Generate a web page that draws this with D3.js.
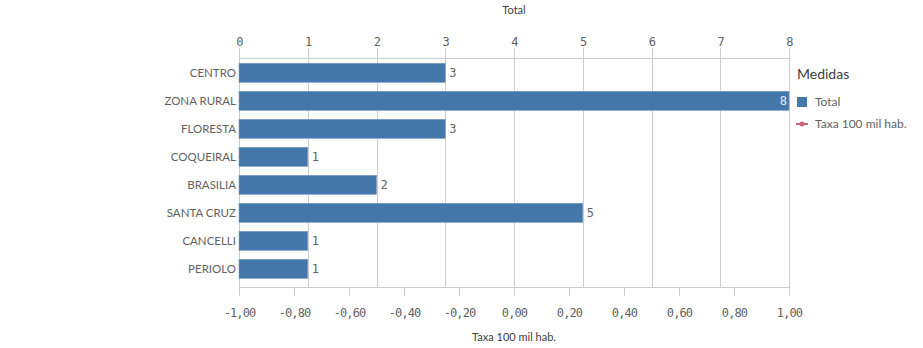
<!DOCTYPE html>
<html><head><meta charset="utf-8">
<script src="https://cdn.jsdelivr.net/npm/d3@7"></script>
<style>
body{margin:0;background:#fff;}
svg{display:block;}
</style></head>
<body>
<svg id="chart" width="923" height="348"></svg>
<script>
const categories = ["CENTRO","ZONA RURAL","FLORESTA","COQUEIRAL","BRASILIA","SANTA CRUZ","CANCELLI","PERIOLO"];
const totalValues = [3,8,3,1,2,5,1,1];
const topTicks = [0,1,2,3,4,5,6,7,8];
const bottomTicks = [-1,-0.8,-0.6,-0.4,-0.2,0,0.2,0.4,0.6,0.8,1];
const legendItems = ["Total","Taxa 100 mil hab."];

(function(){
const svg = d3.select("#chart");
const pLeft = 239, pRight = 789, pTop = 58.5, pBottom = 287.5;
const sansFont = "Lato, 'Open Sans', sans-serif";
const monoFont = "'DejaVu Sans Mono', monospace";
const barColor = "#4477aa";
const textColor = "#626262";

const x = d3.scaleLinear().domain([0,8]).range([pLeft,pRight]);
const x2 = d3.scaleLinear().domain([-1,1]).range([pLeft,pRight]);
const y = d3.scaleBand().domain(categories).range([58.8,282.8]).paddingInner(0.32).paddingOuter(0.16);

svg.append("g").selectAll("line").data(topTicks).join("line")
  .attr("x1",d=>Math.round(x(d))+0.5).attr("x2",d=>Math.round(x(d))+0.5)
  .attr("y1",48).attr("y2",pBottom)
  .attr("stroke","#cccccc").attr("stroke-width",1);

svg.append("line").attr("x1",pLeft).attr("x2",pRight+1).attr("y1",pTop).attr("y2",pTop)
  .attr("stroke","#cccccc");
svg.append("line").attr("x1",pLeft).attr("x2",pRight+1).attr("y1",pBottom).attr("y2",pBottom)
  .attr("stroke","#cccccc");

function mono(sel, size){
  return sel.attr("font-family",monoFont).attr("font-size",size)
    .attr("letter-spacing",-0.9).attr("fill",textColor);
}

mono(svg.append("g").selectAll("text").data(topTicks).join("text")
  .attr("x",d=>x(d)+0.5).attr("y",46)
  .attr("text-anchor","middle"),12).text(d=>d);

svg.append("g").selectAll("line").data(bottomTicks).join("line")
  .attr("x1",d=>Math.round(x2(d))+0.5).attr("x2",d=>Math.round(x2(d))+0.5)
  .attr("y1",pBottom).attr("y2",pBottom+8)
  .attr("stroke","#cccccc");
mono(svg.append("g").selectAll("text").data(bottomTicks).join("text")
  .attr("x",d=>x2(d)+0.5).attr("y",317)
  .attr("text-anchor","middle"),12)
  .text(d=>d3.format(".2f")(d).replace("−","-").replace(".",","));

svg.append("text").attr("x",514).attr("y",14).attr("text-anchor","middle")
  .attr("font-family",sansFont).attr("font-size",11).attr("fill","#404040").text("Total");
svg.append("text").attr("x",514).attr("y",341).attr("text-anchor","middle")
  .attr("font-family",sansFont).attr("font-size",11).attr("fill","#404040")
  .text("Taxa 100 mil hab.");

svg.append("g").selectAll("rect").data(categories).join("rect")
  .attr("x",pLeft).attr("y",d=>y(d))
  .attr("width",(d,i)=>x(totalValues[i])-pLeft).attr("height",y.bandwidth())
  .attr("fill",barColor).attr("stroke","#7a9cc4").attr("stroke-width",0.6);

svg.append("g").selectAll("text").data(categories).join("text")
  .attr("x",pLeft-3).attr("y",d=>y(d)+y.bandwidth()/2)
  .attr("dy","0.33em").attr("text-anchor","end")
  .attr("font-family",sansFont).attr("font-size",11.5).attr("fill",textColor).text(d=>d);

mono(svg.append("g").selectAll("text").data(categories).join("text"),12)
  .each(function(d,i){
    const v = totalValues[i];
    const inside = x(v) + 20 > pRight;
    d3.select(this)
      .attr("x", inside ? x(v)-3 : x(v)+4)
      .attr("text-anchor", inside ? "end" : "start")
      .attr("fill", inside ? "#e6eef7" : textColor);
  })
  .attr("y",d=>y(d)+y.bandwidth()/2).attr("dy","0.35em")
  .text((d,i)=>totalValues[i]);

const lg = svg.append("g");
lg.append("text").attr("x",797).attr("y",79).attr("font-family",sansFont).attr("font-size",14)
  .attr("fill","#404040").text("Medidas");
lg.append("rect").attr("x",797).attr("y",97).attr("width",10).attr("height",10).attr("fill",barColor);
lg.append("line").attr("x1",796).attr("x2",808).attr("y1",124).attr("y2",124)
  .attr("stroke","#cc6677").attr("stroke-width",2);
lg.append("circle").attr("cx",802).attr("cy",124).attr("r",2.5).attr("fill","#cc6677");
lg.selectAll("text.item").data(legendItems).join("text").attr("class","item")
  .attr("x",815).attr("y",(d,i)=>102+i*22).attr("dy","0.35em")
  .attr("font-family",sansFont).attr("font-size",12)
  .attr("fill",textColor).text(d=>d);
})();
</script>
</body></html>
